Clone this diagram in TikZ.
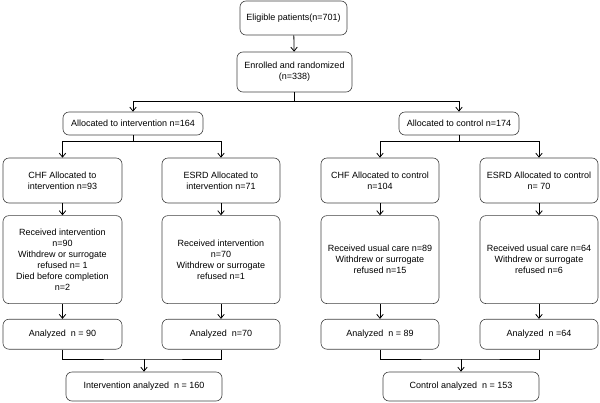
\documentclass[tikz,border=0pt]{standalone}
\usepackage{fontspec}
\setmainfont{Liberation Sans}
\usepackage{xcolor}
\usepackage{tikz}
\usetikzlibrary{arrows.meta,positioning}

\tikzset{
    flowbox/.style={draw=black!75, line width=0.6pt, rounded corners=6pt,
        align=center, inner sep=2pt, font=\fontsize{9}{11}\selectfont},
    link/.style={line width=0.8pt},
    linkarrow/.style={line width=0.8pt, -{Straight Barb[length=4pt,width=6.5pt]}}
}

\begin{document}
\begin{tikzpicture}[x=1pt,y=-1pt]
                \useasboundingbox (0,0) rectangle (600,402);

                \node [flowbox, minimum width=107pt, minimum height=34pt]
                                        (elig) at (293.5,18) {Eligible patients(n=701)};
                \node [flowbox, minimum width=115pt, minimum height=40pt]
                                        (enrol) at (294.5,72) {Enrolled and randomized\\(n=338)};

                \node [flowbox, minimum width=140pt, minimum height=23pt]
                                        (alint) at (133,123.5) {Allocated to intervention n=164};
                \node [flowbox, minimum width=120pt, minimum height=23pt]
                                        (alcon) at (459,123.5) {Allocated to control n=174};

                \node [flowbox, minimum width=119pt, minimum height=45pt]
                                        (chfint) at (62.5,180.5) {CHF Allocated to\\intervention n=93};
                \node [flowbox, minimum width=118pt, minimum height=45pt]
                                        (esrdint) at (221,180.5) {ESRD Allocated to\\intervention n=71};
                \node [flowbox, minimum width=118pt, minimum height=45pt]
                                        (chfcon) at (380,180.5) {CHF Allocated to control\\n=104};
                \node [flowbox, minimum width=118pt, minimum height=45pt]
                                        (esrdcon) at (539,180.5) {ESRD Allocated to control\\n= 70};

                \node [flowbox, minimum width=119pt, minimum height=88pt,
                        below = 12pt of chfint]
                                        (recchfint) {Received intervention\\n=90\\Withdrew or surrogate\\refused n= 1\\Died before completion\\n=2};
                \node [flowbox, minimum width=118pt, minimum height=88pt,
                        below = 12pt of esrdint]
                                        (recesrdint) {Received intervention\\n=70\\Withdrew or surrogate\\refused n=1};
                \node [flowbox, minimum width=118pt, minimum height=88pt,
                        below = 12pt of chfcon]
                                        (recchfcon) {Received usual care n=89\\Withdrew or surrogate\\refused n=15};
                \node [flowbox, minimum width=118pt, minimum height=88pt,
                        below = 12pt of esrdcon]
                                        (recesrdcon) {Received usual care n=64\\Withdrew or surrogate\\refused n=6};

                \node [flowbox, minimum width=119pt, minimum height=30pt,
                        below = 15pt of recchfint]
                                        (anachfint) {Analyzed~~n = 90};
                \node [flowbox, minimum width=118pt, minimum height=30pt,
                        below = 15pt of recesrdint]
                                        (anaesrdint) {Analyzed~~n=70};
                \node [flowbox, minimum width=118pt, minimum height=30pt,
                        below = 15pt of recchfcon]
                                        (anachfcon) {Analyzed~~n = 89};
                \node [flowbox, minimum width=118pt, minimum height=30pt,
                        below = 15pt of recesrdcon]
                                        (anaesrdcon) {Analyzed~~n =64};

                \node [flowbox, minimum width=156pt, minimum height=29pt]
                                        (intana) at (144,386.5) {Intervention analyzed~~n = 160};
                \node [flowbox, minimum width=156pt, minimum height=29pt]
                                        (conana) at (461,386.5) {Control analyzed~~n = 153};

                % top of the chart
                \draw[linkarrow] (elig) -- (enrol);
                \draw[link] (enrol.south) -- ++(0,9) coordinate (randsplit);
                \draw[linkarrow] (randsplit) -| (alint.north);
                \draw[linkarrow] (randsplit) -| (alcon.north);

                % split by disease
                \draw[link] (alint.south) -- ++(0,6) coordinate (intsplit);
                \draw[linkarrow] (intsplit) -| (chfint.north);
                \draw[linkarrow] (intsplit) -| (esrdint.north);
                \draw[link] (alcon.south) -- ++(0,6) coordinate (consplit);
                \draw[linkarrow] (consplit) -| (chfcon.north);
                \draw[linkarrow] (consplit) -| (esrdcon.north);

                \draw[linkarrow] (chfint) -- (recchfint);
                \draw[linkarrow] (esrdint) -- (recesrdint);
                \draw[linkarrow] (chfcon) -- (recchfcon);
                \draw[linkarrow] (esrdcon) -- (recesrdcon);

                \draw[linkarrow] (recchfint) -- (anachfint);
                \draw[linkarrow] (recesrdint) -- (anaesrdint);
                \draw[linkarrow] (recchfcon) -- (anachfcon);
                \draw[linkarrow] (recesrdcon) -- (anaesrdcon);

                % joining the analyzed groups
                \coordinate (intjoin) at (144,359);
                \draw[link] (anachfint.south) |- (intjoin) -| (anaesrdint.south);
                \draw[linkarrow] (intjoin) -- (intana.north);
                \coordinate (conjoin) at (461,359);
                \draw[link] (anachfcon.south) |- (conjoin) -| (anaesrdcon.south);
                \draw[linkarrow] (conjoin) -- (conana.north);
\end{tikzpicture}
\end{document}
